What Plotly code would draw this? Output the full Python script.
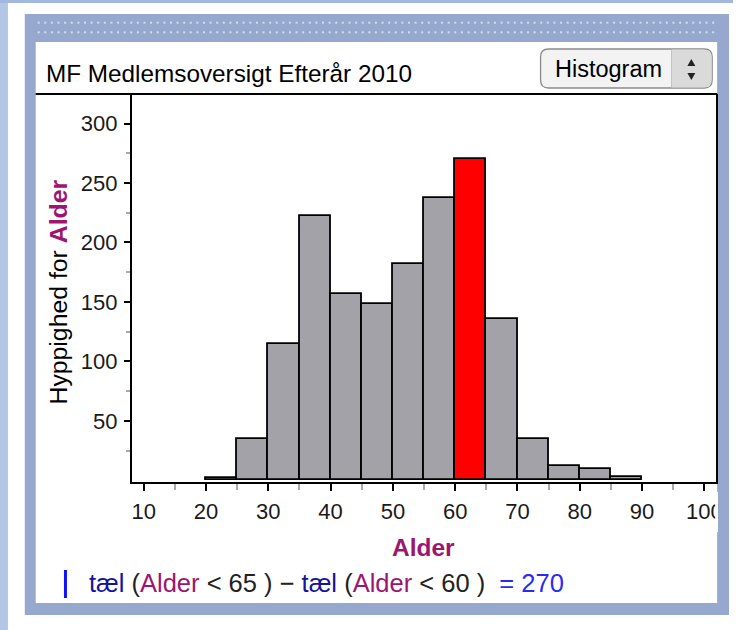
import numpy as np
import plotly.graph_objects as go

W, H = 739, 630

# histogram data (5-year bins)
bin_start = [20, 25, 30, 35, 40, 45, 50, 55, 60, 65, 70, 75, 80, 85]
counts = [2, 35, 115, 222, 157, 148, 182, 237, 270, 136, 35, 12, 10, 3]
bin_width = 5
highlight_bin = 60

x_ticks = [10, 20, 30, 40, 50, 60, 70, 80, 90, 100]
x_minor = [15, 25, 35, 45, 55, 65, 75, 85, 95]
y_ticks = [50, 100, 150, 200, 250, 300]
y_minor = [25, 75, 125, 175, 225, 275]

chart_title = "MF Medlemsoversigt Efterår 2010"
var_name = "Alder"
menu_label = "Histogram"
lower, upper = 60, 65
result = 270

FONT = "Liberation Sans"
PURPLE = "#9c1670"
DARKBLUE = "#14149a"
BLUE = "#2a2af5"
FRAME = "#97a8cf"
LIGHT = "#b3c6e6"
GRAY_BAR = "#a3a2a8"


def px(x):
    return x / W


def py(y):
    return 1 - y / H


def rect(x0, y0, x1, y1, color, layer="below", line=None):
    return dict(type="rect", xref="paper", yref="paper",
                x0=px(x0), x1=px(x1), y0=py(y1), y1=py(y0),
                fillcolor=color, line=line or dict(width=0), layer=layer)


def round_path(x0, y0, x1, y1, r):
    pts = [
        (x0 + r, y0), (x1 - r, y0), (x1, y0), (x1, y0 + r), (x1, y1 - r),
        (x1, y1), (x1 - r, y1), (x0 + r, y1), (x0, y1), (x0, y1 - r),
        (x0, y0 + r), (x0, y0), (x0 + r, y0),
    ]
    p = [(px(a), py(b)) for a, b in pts]
    return ("M {0[0]},{0[1]} L {1[0]},{1[1]} Q {2[0]},{2[1]} {3[0]},{3[1]} "
            "L {4[0]},{4[1]} Q {5[0]},{5[1]} {6[0]},{6[1]} L {7[0]},{7[1]} "
            "Q {8[0]},{8[1]} {9[0]},{9[1]} L {10[0]},{10[1]} "
            "Q {11[0]},{11[1]} {12[0]},{12[1]} Z").format(*p)


def note(text, x, y, size, color="#1a1a1a", xanchor="center", angle=0):
    return dict(text=text, xref="paper", yref="paper", x=px(x), y=py(y),
                xanchor=xanchor, yanchor="middle", textangle=angle,
                showarrow=False, font=dict(size=size, color=color))


colors = ["red" if b == highlight_bin else GRAY_BAR for b in bin_start]

fig = go.Figure()
fig.add_trace(go.Bar(
    x=bin_start, y=counts, width=bin_width, offset=0,
    marker=dict(color=colors, line=dict(color="black", width=1.8)),
    hoverinfo="skip", showlegend=False,
))

# dotted header strip
dot_x = np.linspace(39, 719, 103)
fig.add_trace(go.Scatter(
    x=np.concatenate([dot_x, dot_x]),
    y=np.concatenate([np.full(dot_x.size, 22.7), np.full(dot_x.size, 32.3)]),
    mode="markers", marker=dict(symbol="square", size=2, color="#d3dcf0"),
    xaxis="x2", yaxis="y2", hoverinfo="skip", showlegend=False,
))

shapes = [
    rect(0, 0, 8, H, LIGHT),
    rect(0, 0, W, 3, "#a2b8de"),
    rect(25, 14, 735, 615, FRAME),
    rect(36, 42, 723, 603, "white"),
    # clip the last tick label like the original panel does
    rect(721, 492, 724, 532, "white", layer="above"),
    rect(724, 42, 735, 603, FRAME, layer="above"),
    # top line of plot box
    dict(type="line", xref="paper", yref="paper", x0=px(36), x1=px(723),
         y0=py(94), y1=py(94), line=dict(color="black", width=2)),
    # selector button
    dict(type="path", xref="paper", yref="paper", path=round_path(545, 49, 718, 88, 8),
         fillcolor="#f3f3f3", line=dict(color="#8a8a8a", width=1.3), layer="above"),
    dict(type="path", xref="paper", yref="paper",
         path="M {a},{t} L {b},{t} Q {c},{t} {c},{t2} L {c},{b2} Q {c},{bt} {b},{bt} L {a},{bt} Z".format(
             a=px(677), b=px(710), c=px(717.4), t=py(49.6), t2=py(57), b2=py(80), bt=py(87.4)),
         fillcolor="#dadada", line=dict(width=0), layer="above"),
    dict(type="line", xref="paper", yref="paper", x0=px(677), x1=px(677),
         y0=py(50), y1=py(87), line=dict(color="#c4c4c4", width=1), layer="above"),
    dict(type="path", xref="paper", yref="paper",
         path="M {0},{1} L {2},{3} L {4},{5} Z".format(px(693), py(66), px(701), py(66), px(697), py(59)),
         fillcolor="#222", line=dict(width=0), layer="above"),
    dict(type="path", xref="paper", yref="paper",
         path="M {0},{1} L {2},{3} L {4},{5} Z".format(px(693), py(73), px(701), py(73), px(697), py(80)),
         fillcolor="#222", line=dict(width=0), layer="above"),
    # formula marker
    dict(type="line", xref="paper", yref="paper", x0=px(66), x1=px(66),
         y0=py(570), y1=py(598), line=dict(color="#1010ff", width=3)),
]

formula = ("<span style='color:{d}'>tæl</span> (<span style='color:{p}'>{v}</span> &lt; {u} ) − "
           "<span style='color:{d}'>tæl</span> (<span style='color:{p}'>{v}</span> &lt; {l} )&nbsp; "
           "<span style='color:{b}'>= {r}</span>").format(
    d=DARKBLUE, p=PURPLE, b=BLUE, v=var_name, u=upper, l=lower, r=result)

annotations = [
    note(chart_title, 44, 73, 24.3, "black", xanchor="left"),
    note(menu_label, 613, 69, 23.5, "black"),
    note("Hyppighed for <b><span style='color:%s'>%s</span></b>" % (PURPLE, var_name),
         58, 292, 24.8, "black", angle=-90),
    note("<b>%s</b>" % var_name, 427, 547, 24.5, PURPLE),
    note(formula, 88, 583, 25.5, "#222", xanchor="left"),
]

fig.update_layout(
    width=W, height=H, autosize=False,
    margin=dict(l=0, r=0, t=0, b=0, pad=0),
    paper_bgcolor="white", plot_bgcolor="rgba(0,0,0,0)",
    font=dict(family=FONT, color="#1a1a1a"),
    bargap=0,
    shapes=shapes,
    annotations=annotations,
    xaxis=dict(
        domain=[px(133), px(722)], range=[8.1, 101.9],
        tickvals=x_ticks, ticks="outside", ticklen=7, tickwidth=2, tickcolor="black",
        ticklabelstandoff=2,
        minor=dict(tickvals=x_minor, ticks="outside", ticklen=6, tickwidth=2, tickcolor="#aaaaaa"),
        showline=True, linecolor="black", linewidth=2, showgrid=False, zeroline=False,
        tickfont=dict(size=22, color="#1a1a1a"), fixedrange=True,
    ),
    yaxis=dict(
        domain=[py(482), py(94)], range=[-1.3, 324.8],
        tickvals=y_ticks, ticks="outside", ticklen=6, tickwidth=2, tickcolor="black",
        ticklabelstandoff=2,
        minor=dict(tickvals=y_minor, ticks="outside", ticklen=4, tickwidth=2, tickcolor="#aaaaaa"),
        showline=True, mirror=True, linecolor="black", linewidth=2, showgrid=False, zeroline=False,
        tickfont=dict(size=22, color="#1a1a1a"), fixedrange=True,
    ),
    xaxis2=dict(domain=[0, 1], range=[0, W], visible=False, anchor="y2", fixedrange=True),
    yaxis2=dict(domain=[0, 1], range=[H, 0], visible=False, anchor="x2", fixedrange=True),
)

fig.write_html("out.html", config={"displayModeBar": False},
               post_script="document.body.style.margin='0';")
